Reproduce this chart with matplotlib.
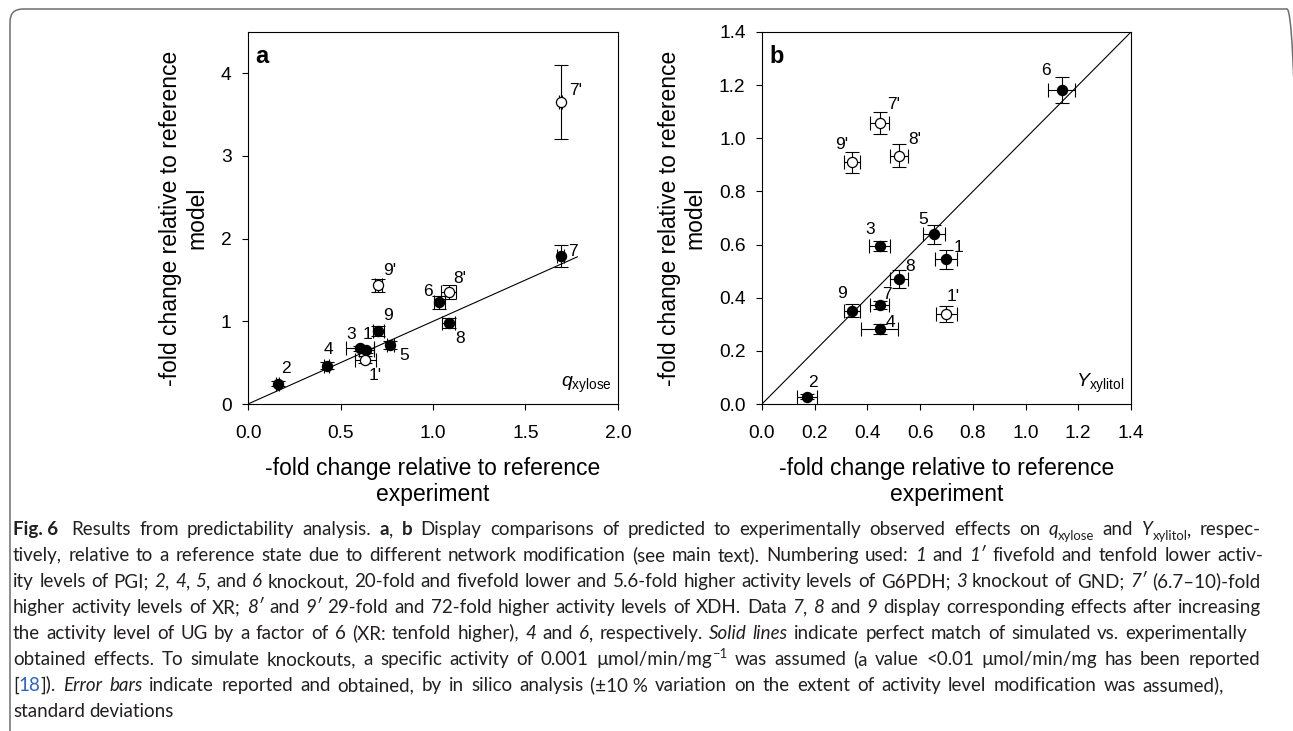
import matplotlib
matplotlib.use('Agg')
import matplotlib.pyplot as plt
from matplotlib import font_manager
from matplotlib.patches import FancyBboxPatch

plt.rcParams['font.family'] = ['Liberation Sans', 'DejaVu Sans']
plt.rcParams['mathtext.fontset'] = 'custom'
plt.rcParams['mathtext.rm'] = 'Liberation Sans'
plt.rcParams['mathtext.it'] = 'Liberation Sans:italic'

W, H = 1293, 731

# data: experiment (x) vs model (y), with standard deviations
names = ['1', "1'", '2', '3', '4', '5', '6', '7', "7'", '8', "8'", '9', "9'"]

a_exp = [0.64, 0.635, 0.16, 0.605, 0.425, 0.77, 1.035, 1.69, 1.69, 1.085, 1.085, 0.705, 0.705]
a_model = [0.65, 0.535, 0.245, 0.675, 0.465, 0.71, 1.23, 1.79, 3.655, 0.975, 1.355, 0.885, 1.435]
a_exp_err = [0.04, 0.055, 0.01, 0.075, 0.015, 0.02, 0.03, 0.02, 0.01, 0.035, 0.04, 0.03, 0.02]
a_model_err = [0.03, 0.04, 0.03, 0.03, 0.04, 0.05, 0.08, 0.13, 0.445, 0.06, 0.08, 0.06, 0.08]

b_exp = [0.698, 0.699, 0.171, 0.446, 0.446, 0.653, 1.137, 0.446, 0.446, 0.52, 0.52, 0.34, 0.34]
b_model = [0.544, 0.34, 0.028, 0.595, 0.282, 0.638, 1.182, 0.374, 1.058, 0.471, 0.935, 0.351, 0.91]
b_exp_err = [0.04, 0.04, 0.037, 0.04, 0.071, 0.042, 0.052, 0.037, 0.037, 0.035, 0.035, 0.03, 0.03]
b_model_err = [0.035, 0.03, 0.01, 0.02, 0.02, 0.035, 0.048, 0.015, 0.04, 0.035, 0.042, 0.025, 0.04]

# label offsets in points
a_offsets = {'1': (1, 11), "1'": (7, -11), '2': (6, 11), '3': (-6, 10), '4': (1.5, 11.5),
             '5': (10, -7), '6': (-8, 8), '7': (9, 3), "7'": (11, 8), '8': (8, -11),
             "8'": (8, 10), '9': (7, 11), "9'": (8, 11)}
b_offsets = {'1': (9, 8.5), "1'": (5, 12), '2': (4, 10), '3': (-6.5, 12), '4': (7.5, 5),
             '5': (-8, 11), '6': (-11, 14), '7': (5, 7), "7'": (10, 13), '8': (8, 9),
             "8'": (11, 11.5), '9': (-7, 12.5), "9'": (-7, 13)}

fig = plt.figure(figsize=(W / 100, H / 100), dpi=100)

ylab = '-fold change relative to reference\nmodel'
xlab = '-fold change relative to reference\nexperiment'


def panel(rect, xs, ys, xe, ye, offsets, lim_x, lim_y, line_end, letter, tag, ylab_x):
    ax = fig.add_axes(rect)
    ax.plot([0, line_end], [0, line_end], color='black', lw=0.8, zorder=1)
    ax.errorbar(xs, ys, xerr=xe, yerr=ye, fmt='none', ecolor='black',
                elinewidth=0.8, capsize=5, capthick=0.8, zorder=2)
    for n, x, y in zip(names, xs, ys):
        face = 'white' if n.endswith("'") else 'black'
        ax.plot(x, y, 'o', ms=7.3, mfc=face, mec='black', mew=0.9, zorder=3)
        ax.annotate(n, (x, y), xytext=offsets[n], textcoords='offset points',
                    ha='center', va='center', fontsize=12.5)
    ax.set_xlim(lim_x)
    ax.set_ylim(lim_y)
    ax.tick_params(direction='out', length=4.3, width=0.8, labelsize=13.8)
    ax.tick_params(axis='x', pad=10.5)
    ax.tick_params(axis='y', pad=7.5)
    for s in ax.spines.values():
        s.set_linewidth(0.8)
    ax.set_ylabel(ylab, fontsize=16.5, linespacing=1.15)
    ax.set_xlabel(xlab, fontsize=16.5, linespacing=1.15)
    ax.yaxis.set_label_coords(ylab_x, 0.5)
    ax.xaxis.set_label_coords(0.5, -0.142)
    ax.text(0.02, 0.917, letter, transform=ax.transAxes, fontsize=17,
            weight='bold', va='baseline')
    ax.text(0.983, 0.045, tag, transform=ax.transAxes, fontsize=14,
            ha='right', va='baseline')
    return ax


axa = panel([248 / W, 1 - 404 / H, 370 / W, 372 / H], a_exp, a_model, a_exp_err, a_model_err,
            a_offsets, (0, 2.0), (0, 4.5), 1.78, 'a', r'$q_{\mathrm{xylose}}$', -0.108)
axa.set_xticks([0, 0.5, 1.0, 1.5, 2.0])
axa.set_xticklabels(['0.0', '0.5', '1.0', '1.5', '2.0'])
axa.set_yticks([0, 1, 2, 3, 4])

axb = panel([762 / W, 1 - 404 / H, 369 / W, 372 / H], b_exp, b_model, b_exp_err, b_model_err,
            b_offsets, (0, 1.4), (0, 1.4), 1.4, 'b', r'$Y_{\mathrm{xylitol}}$', -0.15)
bt = [0, 0.2, 0.4, 0.6, 0.8, 1.0, 1.2, 1.4]
axb.set_xticks(bt)
axb.set_xticklabels(['%.1f' % v for v in bt])
axb.set_yticks(bt)
axb.set_yticklabels(['%.1f' % v for v in bt])

# rounded frame around the figure (only top and left show), in inches
frame = FancyBboxPatch((0.10, -0.14), 12.90, (H - 9) / 100 + 0.14,
                       boxstyle='round,pad=0,rounding_size=0.13',
                       transform=fig.dpi_scale_trans, fill=False, ec='#6e6e6e', lw=1.1)
fig.add_artist(frame)

# caption
installed = {f.name for f in font_manager.fontManager.ttflist}
main_cap = next(f for f in ['Lato', 'Liberation Sans Narrow', 'Open Sans'] if f in installed)
CAP_FONT = [main_cap, 'DejaVu Sans']
TXT = '#231f20'
caption = [
    [('Fig.\u00a06', 'b'), ('\u00a0 Results from predictability analysis. ', 'n'), ('a', 'b'),
     (', ', 'n'), ('b', 'b'),
     (' Display comparisons of predicted to experimentally observed effects on ', 'n'),
     ('q', 'i'), ('xylose', 'sub'), (' and ', 'n'), ('Y', 'i'), ('xylitol', 'sub'), (', respec-', 'n')],
    [('tively, relative to a reference state due to different network modification (see main text). '
      'Numbering used: ', 'n'), ('1', 'i'), (' and ', 'n'), ('1\u2032', 'i'),
     (' fivefold and tenfold lower activ-', 'n')],
    [('ity levels of PGI; ', 'n'), ('2', 'i'), (', ', 'n'), ('4', 'i'), (', ', 'n'), ('5', 'i'),
     (', and ', 'n'), ('6', 'i'),
     (' knockout, 20-fold and fivefold lower and 5.6-fold higher activity levels of G6PDH; ', 'n'),
     ('3', 'i'), (' knockout of GND; ', 'n'), ('7\u2032', 'i'), (' (6.7\u201310)-fold', 'n')],
    [('higher activity levels of XR; ', 'n'), ('8\u2032', 'i'), (' and ', 'n'), ('9\u2032', 'i'),
     (' 29-fold and 72-fold higher activity levels of XDH. Data ', 'n'), ('7', 'i'), (', ', 'n'),
     ('8', 'i'), (' and ', 'n'), ('9', 'i'), (' display corresponding effects after increasing', 'n')],
    [('the activity level of UG by a factor of 6 (XR: tenfold higher), ', 'n'), ('4', 'i'),
     (' and ', 'n'), ('6', 'i'), (', respectively. ', 'n'), ('Solid lines', 'i'),
     (' indicate perfect match of simulated vs. experimentally', 'n')],
    [('obtained effects. To simulate knockouts, a specific activity of 0.001 \u00b5mol/min/mg', 'n'),
     ('\u22121', 'sup'), (' was assumed (a value <0.01 \u00b5mol/min/mg has been reported', 'n')],
    [('[', 'n'), ('18', 'link'), (']). ', 'n'), ('Error bars', 'i'),
     (' indicate reported and obtained, by in silico analysis (\u00b110\u00a0% variation on the '
      'extent of activity level modification was assumed),', 'n')],
    [('standard deviations', 'n')],
]
cap_right = [1261, 1263, 1260, 1261, 1247, 1260, 1224, None]
CAP_LEFT = 13
cap_base = [535 + 26 * i for i in range(8)]

renderer = fig.canvas.get_renderer()


def style_kw(style, fs):
    kw = dict(fontsize=fs, color=TXT, family=CAP_FONT)
    if style == 'b':
        kw['weight'] = 'bold'
    if style == 'i':
        kw['style'] = 'italic'
    if style in ('sub', 'sup'):
        kw['fontsize'] = fs * 0.7
    if style == 'link':
        kw['color'] = '#2b63c6'
    return kw


def words_of(line):
    words, cur = [], []
    for text, style in line:
        parts = text.split(' ')
        for i, p in enumerate(parts):
            if i > 0 and cur:
                words.append(cur)
                cur = []
            if p:
                cur.append((p, style))
    if cur:
        words.append(cur)
    return words


def width(text, style, fs):
    t = fig.text(0, 0, text, **style_kw(style, fs))
    w = t.get_window_extent(renderer).width
    t.remove()
    return w


# pick a font size so the justified lines fit
fs = 12.0
space = width('a a', 'n', fs) - width('aa', 'n', fs)
ratios = []
for line, r in zip(caption, cap_right):
    if r is None:
        continue
    ws = words_of(line)
    nat = sum(width(p, s, fs) for w_ in ws for p, s in w_) + space * (len(ws) - 1)
    ratios.append((r - CAP_LEFT) / nat)
fs = min(13.5, fs * min(ratios) * 0.995)
space = width('a a', 'n', fs) - width('aa', 'n', fs)

for line, r, base in zip(caption, cap_right, cap_base):
    ws = words_of(line)
    pieces = []
    for w_ in ws:
        pieces.append([(p, s, width(p, s, fs)) for p, s in w_])
    total = sum(pw for w_ in pieces for _, _, pw in w_)
    gap = space if r is None else (r - CAP_LEFT - total) / (len(ws) - 1)
    x = CAP_LEFT
    for w_ in pieces:
        for p, s, pw in w_:
            y = base
            if s == 'sub':
                y = base + 0.25 * fs * 100 / 72
            elif s == 'sup':
                y = base - 0.4 * fs * 100 / 72
            fig.text(x / W, 1 - y / H, p, ha='left', va='baseline', **style_kw(s, fs))
            x += pw
        x += gap

fig.savefig('out.png', dpi=100)
